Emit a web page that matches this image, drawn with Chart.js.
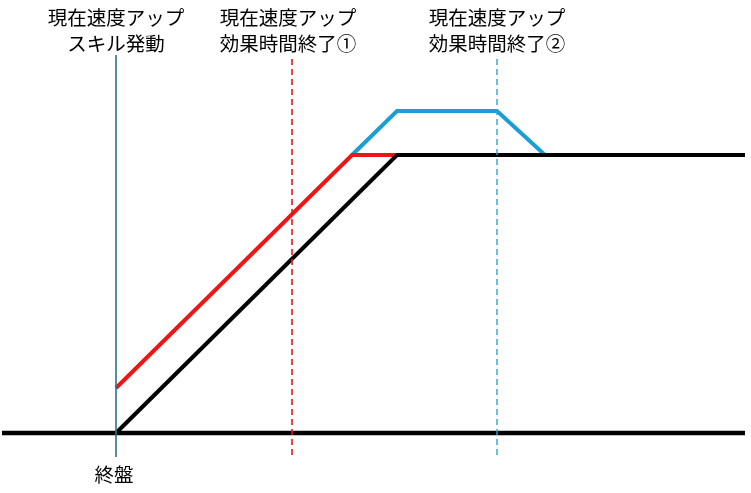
<!DOCTYPE html>
<html>
<head>
<meta charset="utf-8">
<script src="https://cdn.jsdelivr.net/npm/chart.js@4"></script>
<style>
  body { margin: 0; background: #fff; }
</style>
</head>
<body>
<canvas id="chart" width="751" height="493"></canvas>
<script>
// time axis: 0 = start of 終盤, speed axis: 0 = base speed
const axisTimes = [-114, 629];
const axisSpeeds = [0, 0];

const normalTimes = [0, 281, 629];
const normalSpeeds = [0, 278, 278];

const skillTimes = [0, 236, 281];
const skillSpeeds = [45, 278, 278];

const extendTimes = [236, 281, 381, 429];
const extendSpeeds = [278, 322, 322, 278];

const eventTimes = [0, 176, 381];
const eventLabels = [
    ['現在速度アップ', 'スキル発動'],
    ['現在速度アップ', '効果時間終了①'],
    ['現在速度アップ', '効果時間終了②']
];
const eventTop = 378;
const eventBottom = [-24, -22, -22];
const phaseLabel = '終盤';

function pts(xs, ys) {
    return xs.map(function(x, i) { return { x: x, y: ys[i] }; });
}

const eventColors = ['#2f6f8f', '#e8161b', '#2aa3d6'];
const eventDash = [[], [6, 4], [6, 4]];
const eventWidth = [1.6, 1.6, 1.4];

const eventSets = eventTimes.map(function(t, i) {
    return {
        data: pts([t, t], [eventBottom[i], eventTop]),
        borderColor: eventColors[i],
        borderWidth: eventWidth[i],
        borderDash: eventDash[i],
        pointRadius: 0,
        order: 1
    };
});

const textPlugin = {
    id: 'texts',
    afterDraw: function(chart) {
        const ctx = chart.ctx;
        const xs = chart.scales.x;
        ctx.save();
        ctx.fillStyle = '#000';
        ctx.font = '19.5px "Noto Sans CJK JP"';
        ctx.textAlign = 'center';
        ctx.textBaseline = 'middle';
        const offsets = [0, -4, 0];
        eventLabels.forEach(function(lines, i) {
            const px = xs.getPixelForValue(eventTimes[i]) + offsets[i];
            ctx.fillText(lines[0], px, 18);
            ctx.fillText(lines[1], px, 44);
        });
        ctx.fillText(phaseLabel, xs.getPixelForValue(0) - 2, 475);
        ctx.restore();
    }
};

new Chart(document.getElementById('chart').getContext('2d'), {
    type: 'line',
    data: {
        datasets: eventSets.concat([
            {
                data: pts(extendTimes, extendSpeeds),
                borderColor: '#1a9ed3',
                borderWidth: 4,
                pointRadius: 0,
                order: 4
            },
            {
                data: pts(skillTimes, skillSpeeds),
                borderColor: '#f01414',
                borderWidth: 4,
                pointRadius: 0,
                order: 3
            },
            {
                data: pts(normalTimes, normalSpeeds),
                borderColor: '#000',
                borderWidth: 4,
                pointRadius: 0,
                order: 2
            },
            {
                data: pts(axisTimes, axisSpeeds),
                borderColor: '#000',
                borderWidth: 4.5,
                pointRadius: 0,
                order: 2
            }
        ])
    },
    options: {
        responsive: false,
        animation: false,
        layout: { padding: 0 },
        plugins: {
            legend: { display: false },
            tooltip: { enabled: false }
        },
        scales: {
            x: { type: 'linear', min: -116, max: 635, display: false },
            y: { type: 'linear', min: -60, max: 433, display: false }
        }
    },
    plugins: [textPlugin]
});
</script>
</body>
</html>
